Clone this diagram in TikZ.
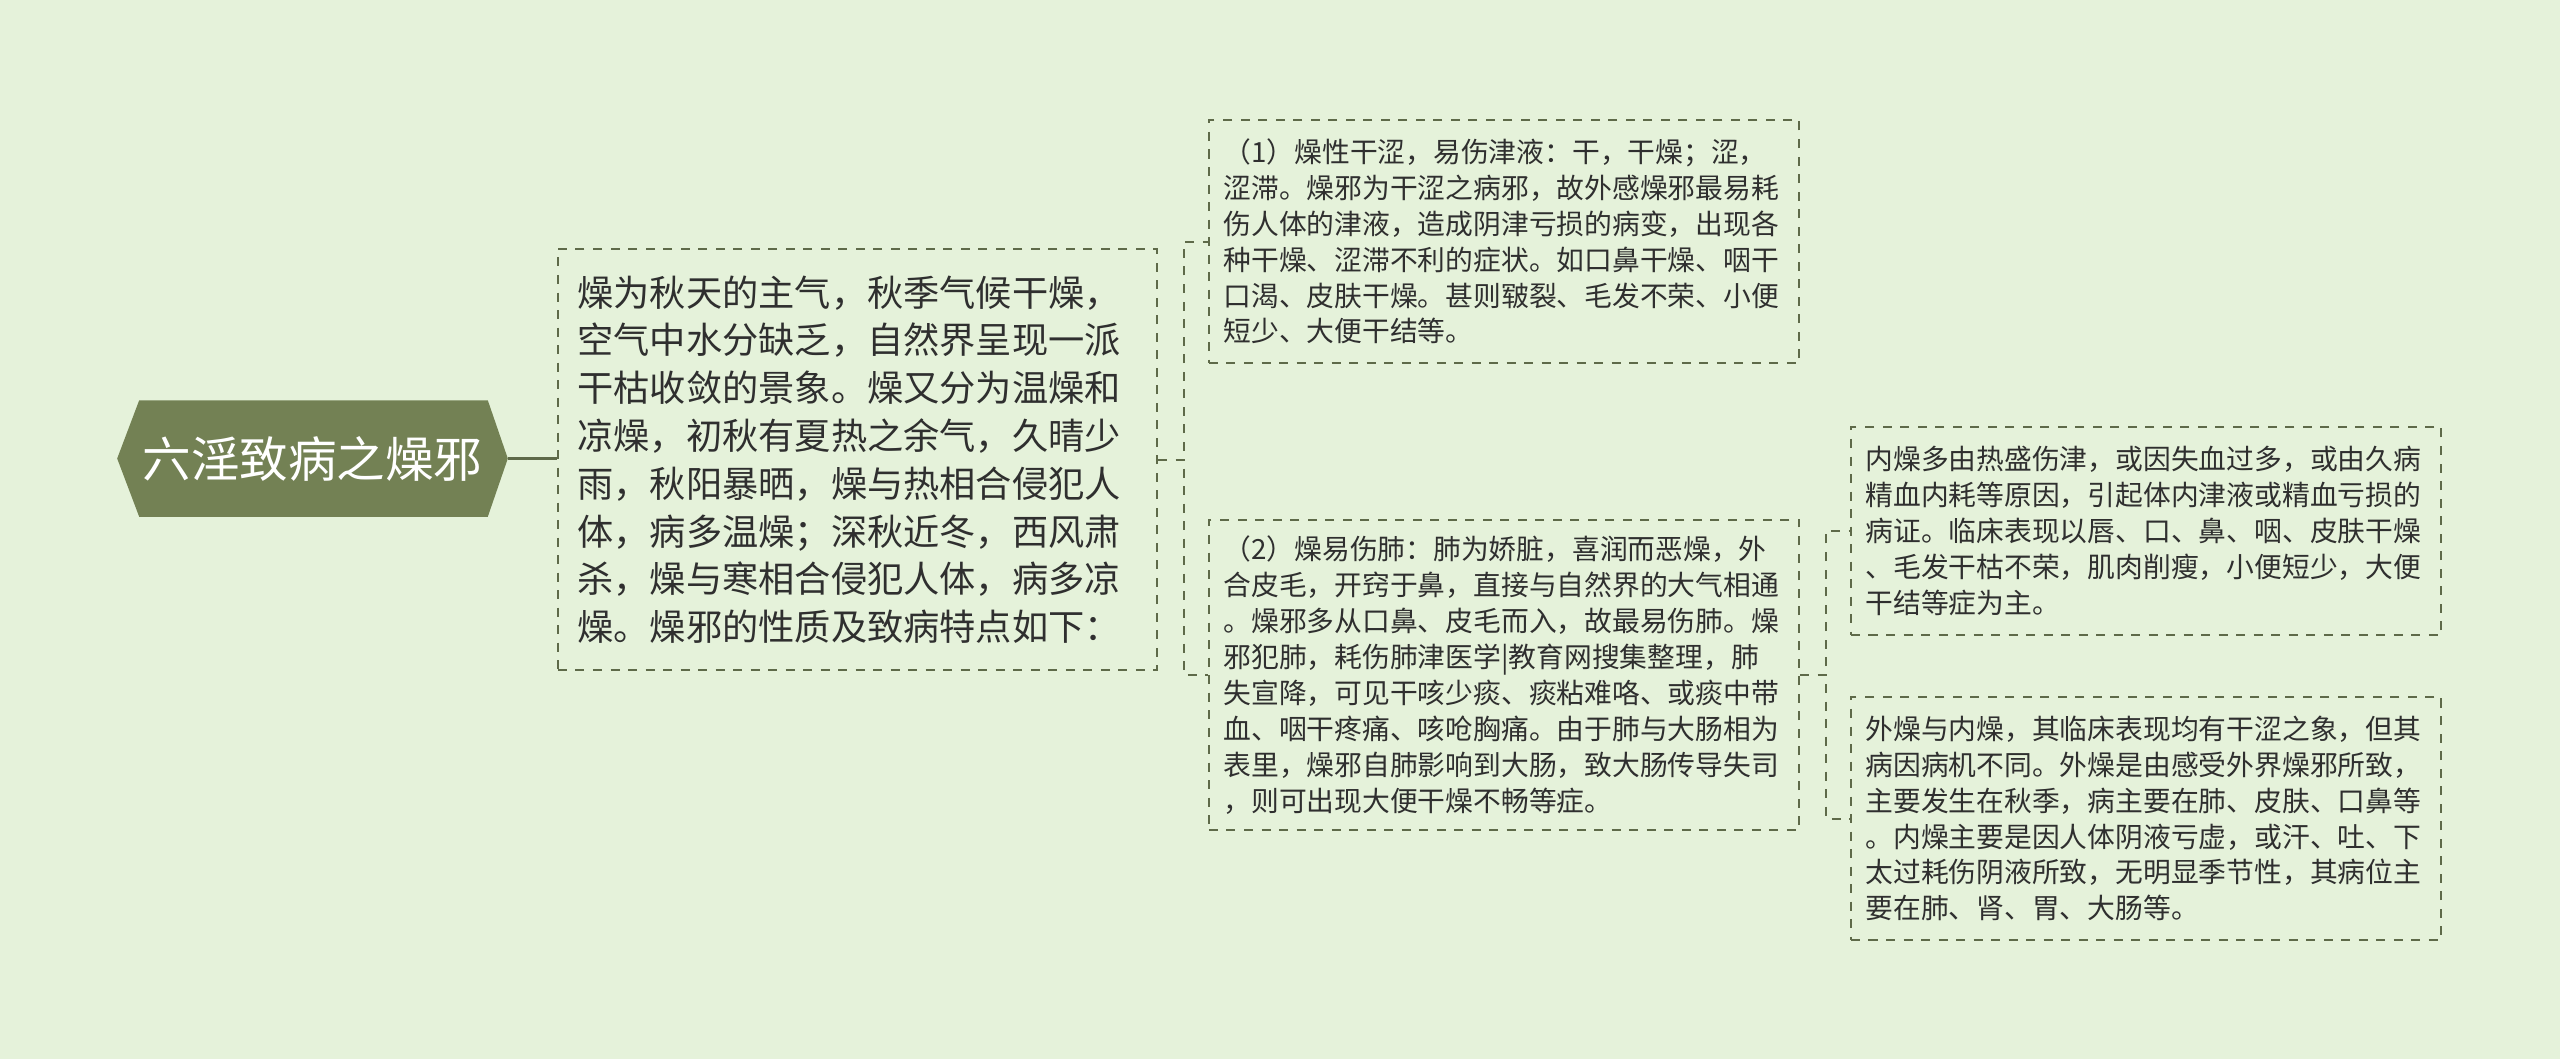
\documentclass[tikz,border=0pt]{standalone}
\usepackage{fontspec}
\newfontfamily\cjk{Noto Sans CJK SC}
\usepackage{xcolor}
\usepackage{tikz}
\usetikzlibrary{backgrounds}

\definecolor{bgcol}{HTML}{E5F2DA}
\definecolor{rootcol}{HTML}{738154}
\definecolor{linecol}{HTML}{5E6A49}
\definecolor{txtcol}{HTML}{2F2F2F}

\begin{document}
\begin{tikzpicture}[x=0.01cm,y=-0.01cm,
    rootnode/.style={minimum width=38.9mm,minimum height=11.5mm,inner sep=0pt,
        text=white,font=\cjk\fontsize{13.8pt}{16pt}\selectfont},
    mainbox/.style={draw=linecol,line width=0.55pt,dash pattern=on 0.9mm off 0.85mm,
        anchor=north west,align=left,text=txtcol,inner xsep=1.95mm,inner ysep=0pt,
        text width=56mm,minimum height=42.1mm,
        font=\cjk\fontsize{10.3pt}{13.6pt}\selectfont},
    subbox/.style={draw=linecol,line width=0.55pt,dash pattern=on 0.9mm off 0.85mm,
        anchor=north west,align=left,text=txtcol,inner xsep=1.45mm,inner ysep=0pt,
        text width=56.1mm,font=\cjk\fontsize{7.9pt}{10.2pt}\selectfont},
    link/.style={draw=linecol,line width=0.55pt,dash pattern=on 0.9mm off 0.85mm}]
                \useasboundingbox (0,0) rectangle (2560,1059);

                \node[rootnode] (root) at (312.5,458.5) {六淫致病之燥邪};

                \node[mainbox] (nature) at (557,248) {燥为秋天的主气，秋季气候干燥，\\空气中水分缺乏，自然界呈现一派\\干枯收敛的景象。燥又分为温燥和\\凉燥，初秋有夏热之余气，久晴少\\雨，秋阳暴晒，燥与热相合侵犯人\\体，病多温燥；深秋近冬，西风肃\\杀，燥与寒相合侵犯人体，病多凉\\燥。燥邪的性质及致病特点如下：};

                \node[subbox,minimum height=24.3mm] (dry) at (1208,119) {（1）燥性干涩，易伤津液：干，干燥；涩，\\涩滞。燥邪为干涩之病邪，故外感燥邪最易耗\\伤人体的津液，造成阴津亏损的病变，出现各\\种干燥、涩滞不利的症状。如口鼻干燥、咽干\\口渴、皮肤干燥。甚则皲裂、毛发不荣、小便\\短少、大便干结等。};
                \node[subbox,minimum height=31mm] (lung) at (1208,519) {（2）燥易伤肺：肺为娇脏，喜润而恶燥，外\\合皮毛，开窍于鼻，直接与自然界的大气相通\\。燥邪多从口鼻、皮毛而入，故最易伤肺。燥\\邪犯肺，耗伤肺津医学|教育网搜集整理，肺\\失宣降，可见干咳少痰、痰粘难咯、或痰中带\\血、咽干疼痛、咳呛胸痛。由于肺与大肠相为\\表里，燥邪自肺影响到大肠，致大肠传导失司\\，则可出现大便干燥不畅等症。};

                \node[subbox,minimum height=20.8mm] (inner) at (1850,426) {内燥多由热盛伤津，或因失血过多，或由久病\\精血内耗等原因，引起体内津液或精血亏损的\\病证。临床表现以唇、口、鼻、咽、皮肤干燥\\、毛发干枯不荣，肌肉削瘦，小便短少，大便\\干结等症为主。};
                \node[subbox,minimum height=24.3mm] (outer) at (1850,696) {外燥与内燥，其临床表现均有干涩之象，但其\\病因病机不同。外燥是由感受外界燥邪所致，\\主要发生在秋季，病主要在肺、皮肤、口鼻等\\。内燥主要是因人体阴液亏虚，或汗、吐、下\\太过耗伤阴液所致，无明显季节性，其病位主\\要在肺、肾、胃、大肠等。};

                \begin{scope}[on background layer]
                \fill[bgcol] (0,0) rectangle (2560,1059);
                \fill[rootcol] (root.west) -- ([xshift=2.2mm]root.north west) -- ([xshift=-2mm]root.north east)
                    -- (root.east) -- ([xshift=-2mm]root.south east) -- ([xshift=2.2mm]root.south west) -- cycle;
                \end{scope}

                \draw[linecol,line width=0.8pt] (root.east)--(root.east-|nature.west);
                \draw[link] (nature.east)--++(26,0)|-(dry.west);
                \draw[link] (nature.east)--++(26,0)|-(lung.west);
                \draw[link] (lung.east)--++(26,0)|-(inner.west);
                \draw[link] (lung.east)--++(26,0)|-(outer.west);
            \end{tikzpicture}
\end{document}
